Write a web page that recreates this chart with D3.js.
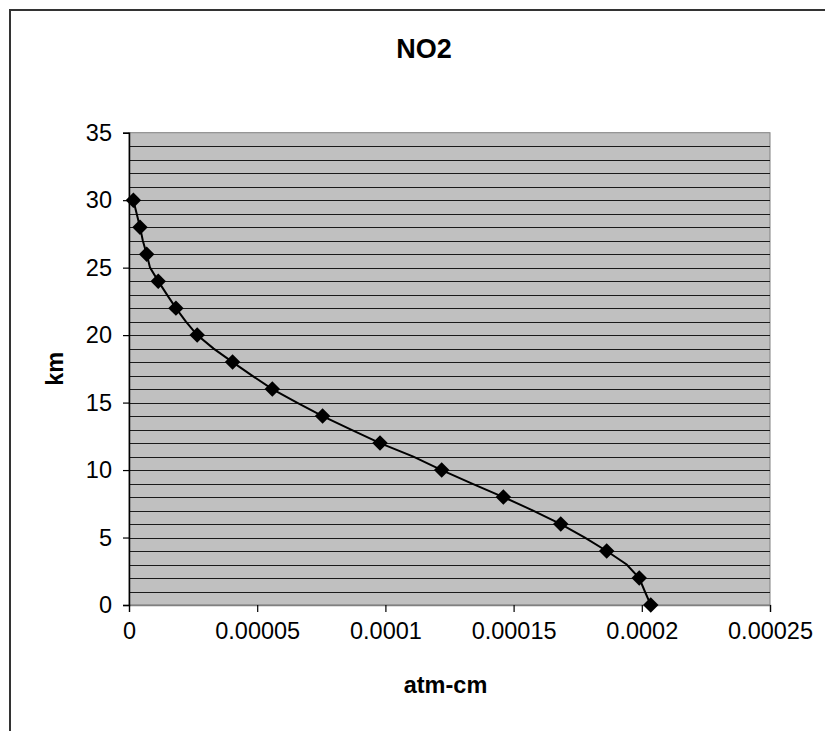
<!DOCTYPE html>
<html>
<head>
<meta charset="utf-8">
<script src="https://cdn.jsdelivr.net/npm/d3@7"></script>
<style>
  body { margin: 0; background: #fff; }
  svg { display: block; font-family: "Liberation Sans", Arial, sans-serif; }
</style>
</head>
<body>
<div class="vis-chart"></div>
<script>
// NO2 profile, every km (markers are drawn on the even km only)
const heights = [0, 1, 2, 3, 4, 5, 6, 7, 8, 9, 10, 11, 12, 13, 14, 15, 16, 17, 18, 19, 20, 21, 22, 23, 24, 25, 26, 27, 28, 29, 30]
const no2 = [
    0.0002035, 0.0002012, 0.000199, 0.0001941, 0.0001863, 0.0001778, 0.0001684, 0.0001576,
    0.000146, 0.0001338, 0.00012195, 0.0001109, 0.0000979, 0.0000866, 0.0000755, 0.0000655,
    0.0000559, 0.000048, 0.0000404, 0.000033, 0.0000266, 0.0000222, 0.0000183, 0.0000148,
    0.0000114, 0.0000082, 0.0000069, 0.0000054, 0.0000043, 0.000003, 0.0000017
]
const markerHeights = [0, 2, 4, 6, 8, 10, 12, 14, 16, 18, 20, 22, 24, 26, 28, 30]
const xTicks = [0, 0.00005, 0.0001, 0.00015, 0.0002, 0.00025]
const yTicks = [0, 5, 10, 15, 20, 25, 30, 35]
const yGrid = d3.range(1, 35)

const dimensions = {
    width: 825,
    height: 731,
    plot: { left: 129, right: 770, top: 132.7, bottom: 605 }
}

let visChart = d3.select('.vis-chart').append('svg')
    .attr('width', dimensions.width)
    .attr('height', dimensions.height)

// outer chart frame (runs off the right and bottom edge)
visChart.append('rect')
    .attr('x', 10).attr('y', 10)
    .attr('width', 840).attr('height', 740)
    .attr('fill', '#fff')
    .attr('stroke', '#333')
    .attr('stroke-width', 2)

const p = dimensions.plot
const xScale = d3.scaleLinear().domain([0, 0.00025]).range([p.left, p.right])
const yScale = d3.scaleLinear().domain([0, 35]).range([p.bottom, p.top])

/* plot area */
visChart.append('rect')
    .attr('x', p.left).attr('y', p.top)
    .attr('width', p.right - p.left).attr('height', p.bottom - p.top)
    .attr('fill', '#c0c0c0')
    .attr('stroke', '#808080')
    .attr('stroke-width', 1)

visChart.append('g')
    .selectAll('line')
    .data(yGrid)
    .join('line')
    .attr('x1', p.left).attr('x2', p.right)
    .attr('y1', d => Math.round(yScale(d)) + 0.5)
    .attr('y2', d => Math.round(yScale(d)) + 0.5)
    .attr('stroke', '#1a1a1a')
    .attr('stroke-width', 1)

/* axes */
const xAxis = d3.axisBottom(xScale).tickValues(xTicks).tickSize(7).tickPadding(10)
    .tickFormat(d => d === 0 ? '0' : String(+d.toFixed(5)))
const yAxis = d3.axisLeft(yScale).tickValues(yTicks).tickSize(6).tickPadding(11)
    .tickFormat(d3.format('d'))

const gx = visChart.append('g')
    .attr('transform', 'translate(0,' + p.bottom + ')')
    .call(xAxis)
gx.select('.domain').attr('stroke', '#808080').attr('stroke-width', 1.5)

const gy = visChart.append('g')
    .attr('transform', 'translate(' + p.left + ',0)')
    .call(yAxis)
gy.select('.domain').attr('stroke', '#000').attr('stroke-width', 1.5)

visChart.selectAll('.tick line').attr('stroke', '#000').attr('stroke-width', 1.2)
visChart.selectAll('.tick text')
    .attr('fill', '#000')
    .style('font-family', '"Liberation Sans", Arial, sans-serif')
    .style('font-size', '23.5px')

/* line + markers */
const line = d3.line()
    .x((d, i) => xScale(no2[i]))
    .y(d => yScale(d))

visChart.append('path')
    .datum(heights)
    .attr('d', line)
    .attr('fill', 'none')
    .attr('stroke', '#000')
    .attr('stroke-width', 2)

const diamond = d3.symbol().type(d3.symbolSquare).size(120)
visChart.append('g')
    .selectAll('path')
    .data(markerHeights)
    .join('path')
    .attr('d', diamond)
    .attr('transform', d => 'translate(' + xScale(no2[heights.indexOf(d)]) + ',' + yScale(d) + ') rotate(45)')
    .attr('fill', '#000')

/* titles */
visChart.append('text')
    .attr('x', 424).attr('y', 58)
    .attr('text-anchor', 'middle')
    .style('font-size', '27px')
    .style('font-weight', 'bold')
    .text('NO2')

visChart.append('text')
    .attr('text-anchor', 'middle')
    .attr('transform', 'translate(63,' + ((p.top + p.bottom) / 2) + ') rotate(-90)')
    .style('font-size', '23.5px')
    .style('font-weight', 'bold')
    .text('km')

visChart.append('text')
    .attr('x', (p.left + p.right) / 2 - 4).attr('y', 693)
    .attr('text-anchor', 'middle')
    .style('font-size', '23.5px')
    .style('font-weight', 'bold')
    .text('atm-cm')
</script>
</body>
</html>
